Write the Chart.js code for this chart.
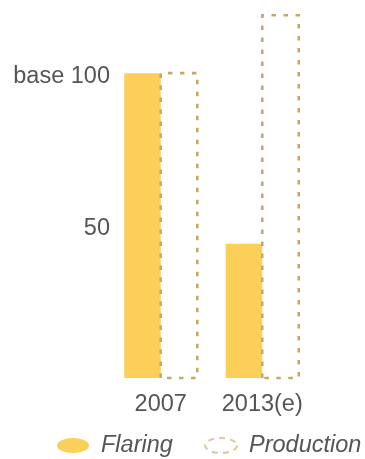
<!DOCTYPE html>
<html>
<head>
<meta charset="utf-8">
<script src="https://cdn.jsdelivr.net/npm/chart.js@4"></script>
<style>
  html, body { margin: 0; padding: 0; background: #ffffff; }
  #wrap { width: 365px; height: 459px; position: relative; }
</style>
</head>
<body>
<div id="wrap"><canvas id="c" width="365" height="459"></canvas></div>
<script>
// Gas flaring vs. oil production, indexed to 2007 = 100
const categories = ['2007', '2013(e)'];
const flaring = [100, 44];
const production = [100, 119];
const tickValues = [50, 100];
const tickLabels = { 50: '50', 100: 'base 100' };

const YELLOW = '#FBCF58';
const TAN = '#C4A86C';
const TEXT = '#555555';
const FONT = "'Liberation Sans', Arial, sans-serif";
const FONT_SIZE = 23.5;

// Production bars are drawn as dashed outlines on top of the bar geometry
const dashedBars = {
  id: 'dashedBars',
  afterDatasetsDraw(chart) {
    const ctx = chart.ctx;
    chart.data.datasets.forEach((ds, i) => {
      if (!ds.dashed) return;
      const meta = chart.getDatasetMeta(i);
      meta.data.forEach(bar => {
        const { x, y, base, width } = bar.getProps(['x', 'y', 'base', 'width'], true);
        const l = x - width / 2, r = x + width / 2;
        ctx.save();
        ctx.strokeStyle = TAN;
        ctx.lineWidth = 2.6;
        ctx.setLineDash([4.5, 7.5]);
        ctx.beginPath();
        ctx.moveTo(l, base);
        ctx.lineTo(l, y);
        ctx.lineTo(r, y);
        ctx.lineTo(r, base);
        ctx.lineTo(l, base);
        ctx.stroke();
        ctx.restore();
      });
    });
  }
};

// Legend with ellipse swatches under the axis
const ellipseLegend = {
  id: 'ellipseLegend',
  afterDraw(chart) {
    const ctx = chart.ctx;
    const cy = 445.5;
    const items = [
      { label: chart.data.datasets[0].label, cx: 73, dashed: false },
      { label: chart.data.datasets[1].label, cx: 221, dashed: true }
    ];
    ctx.save();
    items.forEach(it => {
      ctx.beginPath();
      ctx.ellipse(it.cx, cy, 16, 7.5, 0, 0, Math.PI * 2);
      if (it.dashed) {
        ctx.strokeStyle = '#D9C9A2';
        ctx.lineWidth = 2;
        ctx.setLineDash([6, 5]);
        ctx.stroke();
        ctx.setLineDash([]);
      } else {
        ctx.fillStyle = YELLOW;
        ctx.fill();
      }
      ctx.fillStyle = TEXT;
      ctx.font = 'italic ' + FONT_SIZE + 'px ' + FONT;
      ctx.textBaseline = 'middle';
      ctx.textAlign = 'left';
      ctx.fillText(it.label, it.cx + 28, cy);
    });
    ctx.restore();
  }
};

function noEdgePadding(scale) {
  scale.paddingTop = 0;
  scale.paddingBottom = 0;
  scale.paddingLeft = 0;
  scale.paddingRight = 0;
}

new Chart(document.getElementById('c'), {
  type: 'bar',
  data: {
    labels: categories,
    datasets: [
      { label: 'Flaring', data: flaring, backgroundColor: YELLOW, borderWidth: 0 },
      { label: 'Production', data: production, backgroundColor: 'rgba(0,0,0,0)', borderWidth: 0, dashed: true }
    ]
  },
  options: {
    responsive: false,
    animation: false,
    layout: { padding: { top: 0, left: 0, right: 52, bottom: 0 } },
    datasets: { bar: { categoryPercentage: 0.72, barPercentage: 1 } },
    plugins: { legend: { display: false }, tooltip: { enabled: false } },
    scales: {
      x: {
        grid: { display: false, drawTicks: false },
        border: { display: false },
        ticks: { color: TEXT, font: { family: FONT, size: FONT_SIZE }, padding: 12 },
        afterFit(scale) { scale.height = 81; noEdgePadding(scale); }
      },
      y: {
        min: 0,
        max: 124,
        grid: { display: false, drawTicks: false },
        border: { display: false },
        afterBuildTicks(scale) { scale.ticks = tickValues.map(v => ({ value: v })); },
        ticks: {
          color: TEXT,
          font: { family: FONT, size: FONT_SIZE },
          padding: 0,
          labelOffset: 3,
          callback: v => tickLabels[v]
        },
        afterFit(scale) { scale.width = 110; noEdgePadding(scale); }
      }
    }
  },
  plugins: [dashedBars, ellipseLegend]
});
</script>
</body>
</html>
